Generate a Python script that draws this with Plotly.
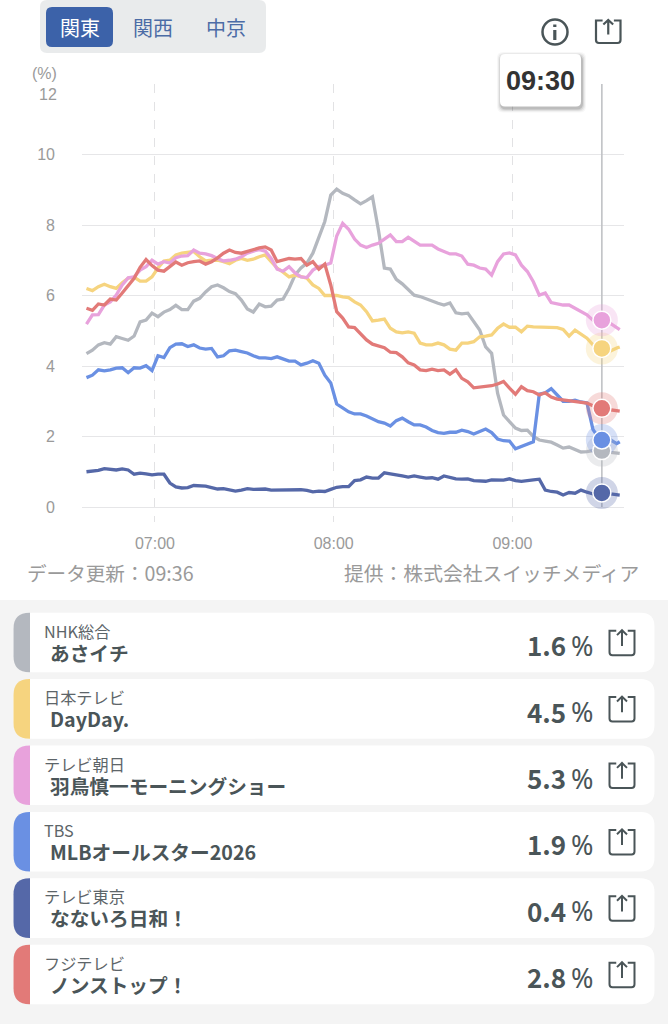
"""
関東の視聴率推移チャート
"""
import pandas as pd
import plotly.graph_objects as go

W, H = 668, 1024

# データ (2分おき、最後だけ 09:36)
times = list(pd.date_range("2026-07-15 06:37", periods=90, freq="2min")) + [pd.Timestamp("2026-07-15 09:36")]
cursor_time = pd.Timestamp("2026-07-15 09:30")

nhk = [4.35, 4.45, 4.6, 4.66, 4.62, 4.83, 4.78, 4.73, 4.85, 5.25,
       5.3, 5.5, 5.4, 5.53, 5.6, 5.72, 5.6, 5.6, 5.84, 5.92,
       6.1, 6.25, 6.3, 6.22, 6.11, 6.05, 5.87, 5.62, 5.53, 5.76,
       5.68, 5.7, 5.87, 5.9, 6.2, 6.58, 6.78, 6.92, 7.2, 7.66,
       8.1, 8.85, 9.02, 8.9, 8.83, 8.71, 8.6, 8.69, 8.8, 7.86,
       6.78, 6.75, 6.46, 6.33, 6.18, 6.01, 5.97, 5.9, 5.84, 5.78,
       5.73, 5.79, 5.51, 5.48, 5.5, 5.26, 5.02, 4.54, 4.36, 3.23,
       2.61, 2.42, 2.24, 2.17, 2.18, 2.0, 1.9, 1.87, 1.84, 1.76,
       1.67, 1.7, 1.62, 1.56, 1.57, 1.6, 1.6, 1.6, 1.55, 1.53,
       1.52]
ntv = [6.2, 6.14, 6.25, 6.32, 6.25, 6.2, 6.36, 6.49, 6.52, 6.41,
       6.41, 6.53, 6.78, 6.98, 7.0, 7.15, 7.2, 7.22, 7.25, 7.1,
       6.98, 7.0, 7.0, 6.96, 6.9, 7.0, 7.05, 7.0, 7.03, 7.1,
       7.15, 6.96, 6.78, 6.66, 6.53, 6.58, 6.53, 6.49, 6.3, 6.2,
       6.0, 6.0, 6.0, 5.96, 5.94, 5.82, 5.73, 5.54, 5.28, 5.3,
       5.33, 5.07, 4.97, 4.94, 4.97, 4.93, 4.65, 4.6, 4.6, 4.65,
       4.6, 4.48, 4.45, 4.65, 4.65, 4.69, 4.83, 4.85, 4.88, 5.07,
       5.19, 5.1, 5.1, 4.97, 5.13, 5.11, 5.11, 5.1, 5.1, 5.09,
       5.04, 4.85, 5.02, 4.9, 4.79, 4.6, 4.48, 4.43, 4.43, 4.51,
       4.54]
asahi = [5.19, 5.45, 5.46, 5.73, 5.82, 6.01, 6.3, 6.5, 6.53, 6.72,
         6.82, 7.0, 6.89, 6.96, 6.92, 7.07, 7.12, 7.13, 7.29, 7.2,
         7.18, 7.13, 7.05, 6.98, 7.0, 7.03, 7.1, 7.2, 7.26, 7.3,
         7.26, 7.05, 6.75, 6.69, 6.82, 6.64, 6.53, 6.51, 6.72, 6.82,
         6.86, 6.92, 7.69, 8.05, 7.88, 7.6, 7.43, 7.36, 7.43, 7.48,
         7.6, 7.72, 7.53, 7.53, 7.65, 7.53, 7.43, 7.43, 7.43, 7.32,
         7.24, 7.18, 7.18, 7.12, 6.89, 6.86, 6.78, 6.75, 6.58, 6.96,
         7.18, 7.21, 7.15, 6.86, 6.68, 6.39, 6.01, 6.07, 5.8, 5.76,
         5.73, 5.73, 5.64, 5.54, 5.45, 5.3, 5.3, 5.28, 5.2, 5.07,
         5.03]
tbs = [3.67, 3.74, 3.89, 3.86, 3.89, 3.94, 3.95, 3.81, 3.95, 3.94,
       4.01, 3.87, 4.29, 4.24, 4.52, 4.62, 4.63, 4.55, 4.6, 4.51,
       4.48, 4.5, 4.26, 4.29, 4.43, 4.45, 4.41, 4.37, 4.29, 4.23,
       4.23, 4.21, 4.26, 4.2, 4.14, 4.14, 4.03, 4.08, 4.15, 4.08,
       3.74, 3.52, 2.92, 2.81, 2.7, 2.64, 2.64, 2.58, 2.49, 2.42,
       2.38, 2.3, 2.45, 2.52, 2.42, 2.33, 2.33, 2.27, 2.17, 2.11,
       2.09, 2.12, 2.12, 2.18, 2.14, 2.07, 2.14, 2.21, 2.11, 1.93,
       1.88, 1.87, 1.65, 1.71, 1.79, 1.85, 3.2, 3.24, 3.36, 3.18,
       3.0, 3.0, 3.03, 2.98, 2.95, 2.2, 1.95, 1.9, 1.9, 1.8,
       1.85]
tx = [1.0, 1.02, 1.04, 1.09, 1.07, 1.05, 1.08, 1.05, 0.93, 0.96,
      0.94, 0.91, 0.93, 0.93, 0.68, 0.57, 0.54, 0.55, 0.61, 0.61,
      0.59, 0.55, 0.51, 0.52, 0.49, 0.45, 0.48, 0.52, 0.5, 0.5,
      0.51, 0.48, 0.48, 0.5, 0.5, 0.49, 0.49, 0.47, 0.43, 0.45,
      0.44, 0.5, 0.56, 0.58, 0.58, 0.75, 0.77, 0.85, 0.82, 0.82,
      0.97, 0.94, 0.92, 0.88, 0.85, 0.88, 0.85, 0.82, 0.83, 0.79,
      0.88, 0.83, 0.8, 0.79, 0.8, 0.75, 0.75, 0.73, 0.77, 0.77,
      0.76, 0.8, 0.75, 0.73, 0.76, 0.77, 0.79, 0.48, 0.44, 0.42,
      0.34, 0.41, 0.39, 0.48, 0.42, 0.37, 0.38, 0.4, 0.37, 0.36,
      0.34]
fuji = [5.64, 5.58, 5.76, 5.73, 5.9, 5.87, 6.07, 6.3, 6.49, 6.8,
        7.02, 6.85, 6.72, 6.69, 6.82, 6.95, 6.86, 6.93, 6.96, 6.98,
        6.89, 6.96, 7.07, 7.2, 7.29, 7.22, 7.2, 7.25, 7.32, 7.35,
        7.38, 7.29, 6.96, 7.0, 7.05, 7.03, 7.05, 6.86, 6.96, 6.75,
        6.89, 6.3, 5.54, 5.36, 5.11, 5.09, 4.93, 4.74, 4.62, 4.57,
        4.52, 4.39, 4.38, 4.26, 4.09, 4.03, 3.89, 3.87, 3.91, 3.87,
        3.89, 3.77, 3.89, 3.65, 3.55, 3.38, 3.4, 3.44, 3.44, 3.49,
        3.56, 3.37, 3.2, 3.41, 3.3, 3.27, 3.18, 3.24, 3.12, 3.06,
        3.04, 3.02, 2.99, 2.97, 2.95, 2.87, 2.8, 2.78, 2.75, 2.73,
        2.72]

channels = ["NHK総合", "日本テレビ", "テレビ朝日", "TBS", "テレビ東京", "フジテレビ"]
programs = ["あさイチ", "DayDay.", "羽鳥慎一モーニングショー", "MLBオールスター2026", "なないろ日和！", "ノンストップ！"]
current = [1.6, 4.5, 5.3, 1.9, 0.4, 2.8]
colors = ["#b4b8bf", "#f6d47f", "#e8a2dc", "#6a90e3", "#5568a8", "#e27a78"]
series = [nhk, ntv, asahi, tbs, tx, fuji]

y_ticks = [0, 2, 4, 6, 8, 10, 12]
y_labels = ["0", "2", "4", "6", "8", "10", ""]
regions = ["関東", "関西", "中京"]

CJK = "Noto Sans CJK JP"
LATIN = "Liberation Sans"
DARK = "#4a5558"
PAD = 2.5  # 注釈の内側の余白ぶん


def px(x):
    return x / W


def py(y):
    return 1 - y / H


def path(cmds):
    # ピクセル座標のコマンド列を paper 座標の SVG パスにする
    out = []
    for c in cmds:
        out.append(c[0] + " ".join(f"{px(c[i]):.5f},{py(c[i + 1]):.5f}" for i in range(1, len(c), 2)))
    return " ".join(out)


def round_rect(x0, y0, x1, y1, rl, rr):
    return path([
        ("M", x0 + rl, y0), ("L", x1 - rr, y0), ("Q", x1, y0, x1, y0 + rr), ("L", x1, y1 - rr),
        ("Q", x1, y1, x1 - rr, y1), ("L", x0 + rl, y1), ("Q", x0, y1, x0, y1 - rl), ("L", x0, y0 + rl),
        ("Q", x0, y0, x0 + rl, y0),
    ]) + " Z"


fig = go.Figure()
shapes = []
annotations = []


def box(x0, y0, x1, y1, fill, rl=0, rr=None, layer="below"):
    rr = rl if rr is None else rr
    shapes.append(dict(type="path", xref="paper", yref="paper", layer=layer, path=round_rect(x0, y0, x1, y1, rl, rr),
                       fillcolor=fill, line=dict(width=0)))


def text(x, y, s, size, color, anchor="left", family=CJK, bold=False):
    shift = {"left": -PAD, "right": PAD, "center": 0}[anchor]
    annotations.append(dict(xref="paper", yref="paper", x=px(x + shift), y=py(y), text=f"<b>{s}</b>" if bold else s,
                            showarrow=False, xanchor=anchor, yanchor="middle", align=anchor,
                            font=dict(size=size, color=color, family=family)))


def share_icon(x, y, w, h, lw=2.2):
    tray = path([
        ("M", x + 0.27 * w, y), ("L", x, y), ("L", x, y + h - 3), ("Q", x, y + h, x + 3, y + h),
        ("L", x + w - 3, y + h), ("Q", x + w, y + h, x + w, y + h - 3), ("L", x + w, y), ("L", x + 0.73 * w, y),
    ])
    arrow = path([
        ("M", x + 0.5 * w, y + 0.62 * h), ("L", x + 0.5 * w, y - 0.5), ("M", x + 0.3 * w, y + 0.18 * h),
        ("L", x + 0.5 * w, y - 0.5), ("L", x + 0.7 * w, y + 0.18 * h),
    ])
    for p in (tray, arrow):
        shapes.append(dict(type="path", xref="paper", yref="paper", layer="above", path=p,
                           line=dict(color=DARK, width=lw)))


# 上部のタブ
box(40, 0, 266, 53, "#e9ebec", 7)
box(46, 7, 113, 47, "#3c62a9", 6)
for label, x, c in zip(regions, [80, 153, 226], ["#ffffff", "#4c6ca6", "#4c6ca6"]):
    text(x, 27.5, label, 20, c, "center")

# 情報アイコン
shapes.append(dict(type="circle", xref="paper", yref="paper", x0=px(542.5), x1=px(567.5), y0=py(44.5), y1=py(19.5),
                   line=dict(color=DARK, width=2.5)))
shapes.append(dict(type="path", xref="paper", yref="paper", path=path([("M", 554.8, 30), ("L", 554.8, 40)]),
                   line=dict(color=DARK, width=3.2)))
shapes.append(dict(type="path", xref="paper", yref="paper", path=path([("M", 554.8, 24.5), ("L", 554.8, 27)]),
                   line=dict(color=DARK, width=3.2)))
share_icon(596, 20.5, 24.5, 22.5)

# カーソル線
fig.add_trace(go.Scatter(x=[cursor_time, cursor_time], y=[0, 12], mode="lines", hoverinfo="skip",
                         line=dict(color="#c0c2c5", width=1.6), showlegend=False))

for name, values, color in zip(channels, series, colors):
    assert len(values) == len(times), name
    fig.add_trace(go.Scatter(x=times, y=values, name=name, mode="lines",
                             line=dict(color=color, width=3.3), showlegend=False))

for value, color in zip(current, colors):
    fig.add_trace(go.Scatter(x=[cursor_time], y=[value], mode="markers", hoverinfo="skip", showlegend=False,
                             marker=dict(size=32, color=color, opacity=0.28, line=dict(width=0))))
for value, color in zip(current, colors):
    fig.add_trace(go.Scatter(x=[cursor_time], y=[value], mode="markers", hoverinfo="skip", showlegend=False,
                             marker=dict(size=18, color=color, line=dict(color="#ffffff", width=1.5))))

# 時刻のポップアップ
for grow, alpha in [(4, 0.03), (3, 0.05), (2, 0.08), (1, 0.12)]:
    box(500 - grow + 1, 54 - grow + 2, 581 + grow + 1, 106.5 + grow + 2, f"rgba(0,0,0,{alpha})", 6, layer="above")
box(500, 54, 581, 106.5, "#ffffff", 5, layer="above")
text(540.5, 81, "09:30", 27, "#333333", "center", LATIN, True)

# 軸まわりの文字
text(56, 73, "(%)", 16, "#9a9a9a", "right", LATIN)
text(56, 94.5, "12", 16, "#9a9a9a", "right", LATIN)
text(27, 572, "データ更新：09:36", 19.6, "#9a9a9a")
text(638.5, 572, "提供：株式会社スイッチメディア", 19.8, "#9a9a9a", "right")

# 番組カード
box(0, 600, W, H, "#f4f4f4")
for i in range(6):
    top = 612.7 + i * 66.4
    box(13.5, top, 654.5, top + 59.6, "#ffffff", 18, 14)
    box(13.5, top, 30, top + 59.6, colors[i], 16, 0)
    text(44, top + 18, channels[i], 16.2, "#5d6569")
    text(50.5, top + 39.5, programs[i], 19.7, DARK, bold=True)
    text(565, top + 32, f"{current[i]:.1f}", 26, DARK, "right", bold=True)
    text(571.5, top + 32.5, "%", 27, DARK, family="Noto Sans")
    share_icon(609.5, top + 18, 25, 24.5, 2)

fig.update_layout(
    width=W, height=H, margin=dict(l=0, r=0, t=0, b=0), autosize=False,
    paper_bgcolor="#ffffff", plot_bgcolor="#ffffff", showlegend=False, hovermode=False,
    shapes=shapes, annotations=annotations,
    xaxis=dict(domain=[px(82), px(624)], range=["2026-07-15 06:35:30", "2026-07-15 09:37:26"],
               tickmode="array", tickvals=["2026-07-15 07:00", "2026-07-15 08:00", "2026-07-15 09:00"],
               ticktext=["07:00", "08:00", "09:00"], showgrid=True, griddash="dash", gridcolor="#e2e2e4", gridwidth=1.3,
               zeroline=False, showline=False, ticks="", ticklabelstandoff=10,
               tickfont=dict(size=16, color="#9a9a9a", family=LATIN)),
    yaxis=dict(domain=[py(522), py(84)], range=[-0.4255, 12], tickmode="array", tickvals=y_ticks, ticktext=y_labels,
               showgrid=True, gridcolor="#e6e6e8", gridwidth=1.3, zeroline=False, showline=False, ticks="",
               ticklabelstandoff=26, tickfont=dict(size=16, color="#9a9a9a", family=LATIN)),
)

fig.write_html("out.html", config=dict(displayModeBar=False),
               post_script="document.body.style.margin='0';")
